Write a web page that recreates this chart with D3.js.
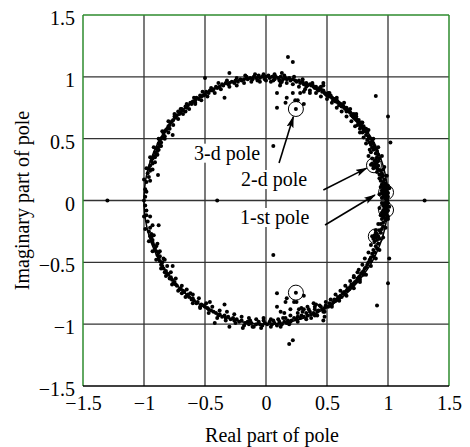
<!DOCTYPE html>
<html>
<head>
<meta charset="utf-8">
<script src="https://d3js.org/d3.v7.min.js"></script>
<style>
  body { margin: 0; background: #fff; }
  text { font-family: "Liberation Serif", "Times New Roman", serif; fill: #000; }
</style>
</head>
<body>
<div id="chart"></div>
<script>

var xTicks = [-1.5, -1, -0.5, 0, 0.5, 1, 1.5],
    yTicks = [-1.5, -1, -0.5, 0, 0.5, 1, 1.5];

// poles in the upper half plane (real, imag)
var polesUpper = [
  [0.99,0.01],[0.98,0.02],[0.97,0.03],[0.99,0.04],[0.96,0.05],[0.98,0.05],[1.0,0.06],[0.97,0.07],[0.99,0.07],[0.95,0.08],
  [0.98,0.08],[0.96,0.09],[0.99,0.09],[0.97,0.10],[0.98,0.11],[0.95,0.06],[0.96,0.03],[1.0,0.03],[0.97,0.05],[0.98,0.10],
  [0.95,0.02],[0.96,0.11],[1.0,0.12],[0.99,0.0],
  [0.97,0.12],[0.95,0.13],[0.98,0.14],[0.96,0.15],[0.94,0.16],[0.97,0.17],[0.95,0.19],[0.96,0.2],[0.93,0.21],[0.95,0.22],
  [0.94,0.24],[0.96,0.25],[0.92,0.25],
  [0.91,0.26],[0.9,0.27],[0.88,0.28],[0.92,0.28],[0.89,0.29],[0.9,0.3],[0.87,0.3],[0.91,0.31],[0.89,0.32],[0.88,0.26],
  [0.86,0.29],[0.9,0.33],[0.92,0.32],[0.89,0.27],
  [0.93,0.34],[0.91,0.35],[0.92,0.37],[0.9,0.38],[0.91,0.4],[0.88,0.41],[0.9,0.42],[0.87,0.43],[0.89,0.44],[0.86,0.45],
  [0.88,0.46],[0.85,0.47],[0.87,0.48],[0.84,0.5],[0.86,0.5],[0.83,0.49],[0.84,0.36],[0.86,0.39],
  [0.84,0.52],[0.82,0.53],[0.83,0.55],[0.81,0.56],[0.8,0.57],[0.82,0.58],[0.79,0.59],[0.78,0.6],[0.8,0.6],[0.77,0.61],
  [0.76,0.62],[0.78,0.63],[0.75,0.64],[0.74,0.65],[0.76,0.65],[0.73,0.66],[0.72,0.67],[0.74,0.68],[0.71,0.68],[0.7,0.69],
  [0.72,0.7],[0.69,0.71],[0.79,0.55],[0.77,0.58],[0.75,0.61],
  [0.68,0.72],[0.67,0.73],[0.66,0.72],[0.65,0.74],[0.64,0.75],[0.66,0.75],[0.62,0.76],[0.63,0.77],[0.61,0.78],[0.6,0.77],
  [0.59,0.79],[0.57,0.8],[0.58,0.81],[0.56,0.82],[0.55,0.81],[0.54,0.83],[0.52,0.84],[0.53,0.85],[0.5,0.85],[0.51,0.87],
  [0.49,0.86],
  [0.48,0.87],[0.46,0.88],[0.47,0.89],[0.45,0.9],[0.43,0.89],[0.44,0.91],[0.42,0.9],[0.4,0.91],[0.41,0.92],[0.39,0.92],
  [0.37,0.93],[0.38,0.94],[0.36,0.94],[0.34,0.93],[0.33,0.95],[0.31,0.94],[0.3,0.96],[0.28,0.95],[0.27,0.97],[0.25,0.96],
  [0.24,0.97],[0.22,0.98],[0.2,0.97],[0.19,0.99],[0.17,0.98],
  [0.47,0.95],[0.47,0.93],[0.18,1.16],[0.22,1.12],[0.09,0.87],[0.17,0.83],[0.16,0.79],[0.09,0.75],[0.24,0.81],[0.26,0.81],
  [0.31,0.78],[0.115,0.93],[0.13,0.96],[0.13,1.03],[0.22,0.87],[0.31,0.88],[0.28,0.87],[0.33,0.92],[0.36,0.89],[0.06,0.44],
  [0.245,0.74],[0.9,0.845],[1.0,0.68],[1.02,0.47],
  [0.16,0.99],[0.14,0.98],[0.12,1.0],[0.1,0.99],[0.08,1.0],[0.07,0.98],[0.05,1.0],[0.03,0.99],[0.02,1.01],[0.0,1.0],
  [-0.01,0.98],[-0.03,1.0],[-0.05,0.99],[-0.06,1.01],[-0.08,0.99],[-0.1,1.0],[-0.11,0.98],[-0.13,0.99],[-0.15,0.98],[-0.16,1.0],
  [-0.18,0.98],[0.04,0.96],[-0.07,0.97],[0.11,0.97],[-0.3,1.03],
  [-0.2,0.97],[-0.21,0.98],[-0.23,0.96],[-0.25,0.97],[-0.26,0.95],[-0.28,0.96],[-0.3,0.95],[-0.31,0.94],[-0.33,0.95],[-0.35,0.93],
  [-0.36,0.94],[-0.38,0.92],[-0.4,0.91],[-0.41,0.92],[-0.43,0.9],[-0.44,0.89],[-0.46,0.89],[-0.47,0.87],[-0.49,0.88],[-0.5,0.86],
  [-0.34,0.83],[-0.5,0.99],
  [-0.51,0.85],[-0.53,0.84],[-0.54,0.85],[-0.55,0.82],[-0.57,0.83],[-0.58,0.81],[-0.6,0.8],[-0.61,0.78],[-0.62,0.79],[-0.64,0.77],
  [-0.65,0.75],[-0.66,0.76],[-0.68,0.73],[-0.69,0.74],[-0.7,0.71],[-0.71,0.7],[-0.72,0.72],[-0.73,0.69],[-0.74,0.67],[-0.75,0.68],
  [-0.76,0.65],[-0.77,0.64],[-0.66,0.72],[-0.58,0.78],
  [-0.78,0.63],[-0.79,0.61],[-0.8,0.6],[-0.81,0.58],[-0.82,0.57],[-0.83,0.56],[-0.84,0.54],[-0.83,0.52],[-0.85,0.51],[-0.86,0.5],
  [-0.87,0.48],[-0.86,0.47],[-0.88,0.46],[-0.87,0.44],[-0.89,0.43],[-0.9,0.42],[-0.89,0.4],[-0.91,0.39],[-0.9,0.37],[-0.92,0.36],
  [-0.91,0.35],[-0.93,0.34],[-0.765,0.53],[-0.79,0.58],[-0.88,0.41],
  [-0.94,0.32],[-0.93,0.3],[-0.95,0.28],[-0.96,0.26],[-0.95,0.24],[-0.97,0.22],[-0.96,0.19],[-0.885,0.206],[-0.98,0.15],[-0.99,0.09],
  [-0.98,0.07],[-1.0,0.0],[-0.99,0.03],[-1.3,0.0],[-0.4,0.0],
  // inner edge of the band
  [0.93,0.05],[0.94,0.11],[0.93,0.18],[0.91,0.23],[0.87,0.34],[0.85,0.41],[0.82,0.46],[0.8,0.51],[0.77,0.55],[0.73,0.6],
  [0.7,0.64],[0.66,0.68],[0.62,0.72],[0.58,0.75],[0.54,0.79],[0.5,0.82],[0.45,0.84],[0.41,0.87],[0.36,0.87],[0.32,0.9],
  [0.27,0.92],[0.22,0.94],[0.17,0.95],[0.12,0.95],[0.06,0.97],[0.0,0.97],[-0.05,0.96],[-0.12,0.96],[-0.18,0.95],[-0.24,0.93],
  [-0.3,0.92],[-0.37,0.9],[-0.42,0.87],[-0.48,0.84],[-0.53,0.81],[-0.58,0.79],[-0.63,0.74],[-0.68,0.7],[-0.72,0.66],[-0.76,0.61],
  [-0.8,0.55],[-0.83,0.5],[-0.86,0.44],[-0.89,0.37],[-0.91,0.31],[-0.93,0.25],[-0.95,0.16],
  // outer edge of the band
  [1.01,0.1],[0.99,0.2],[0.97,0.27],[0.95,0.36],[0.92,0.43],[0.88,0.5],[0.84,0.57],[0.79,0.63],[0.74,0.7],[0.69,0.74],
  [0.64,0.79],[0.58,0.83],[0.52,0.87],[0.45,0.92],[0.38,0.95],[0.3,0.98],[0.23,1.0],[0.15,1.01],[0.07,1.02],[-0.02,1.02],
  [-0.09,1.02],[-0.17,1.01],[-0.24,0.99],[-0.32,0.97],[-0.39,0.95],[-0.45,0.91],[-0.52,0.88],[-0.59,0.83],[-0.65,0.78],[-0.7,0.74],
  [-0.75,0.7],[-0.8,0.64],[-0.85,0.56],[-0.88,0.5],[-0.92,0.43],[-0.95,0.35],[-0.98,0.26],[-1.0,0.17]
];

// poles in the lower half plane (real, imag)
var polesLower = [
  [0.99,-0.01],[0.97,-0.02],[0.98,-0.03],[0.96,-0.04],[0.99,-0.05],[0.97,-0.06],[0.98,-0.07],[1.0,-0.08],[0.96,-0.08],[0.99,-0.09],
  [0.97,-0.1],[0.98,-0.11],[0.95,-0.1],[0.99,-0.12],[0.96,-0.12],[0.98,-0.05],[0.97,-0.08],[1.3,0.0],
  [0.95,-0.02],[1.0,-0.02],[0.96,-0.13],[1.0,-0.13],
  [0.97,-0.14],[0.95,-0.15],[0.98,-0.16],[0.96,-0.18],[0.94,-0.19],[0.96,-0.21],[0.95,-0.23],[0.93,-0.24],[0.94,-0.26],
  [0.91,-0.27],[0.89,-0.28],[0.92,-0.29],[0.9,-0.3],[0.88,-0.31],[0.91,-0.32],[0.89,-0.33],[0.87,-0.29],[0.93,-0.31],[0.9,-0.26],
  [0.92,-0.35],[0.9,-0.37],[0.91,-0.39],[0.88,-0.4],[0.89,-0.42],[0.87,-0.43],[0.88,-0.45],[0.86,-0.46],[0.85,-0.48],[0.86,-0.49],
  [0.84,-0.5],[1.01,-0.47],[1.0,-0.67],[0.91,-0.85],
  [0.83,-0.52],[0.82,-0.54],[0.81,-0.55],[0.8,-0.57],[0.79,-0.58],[0.8,-0.6],[0.78,-0.59],[0.77,-0.61],[0.76,-0.62],[0.75,-0.63],
  [0.77,-0.64],[0.74,-0.65],[0.73,-0.66],[0.72,-0.67],[0.71,-0.69],[0.7,-0.68],[0.69,-0.7],[0.75,-0.58],[0.72,-0.62],
  [0.68,-0.72],[0.67,-0.71],[0.66,-0.73],[0.64,-0.74],[0.65,-0.76],[0.63,-0.75],[0.61,-0.77],[0.62,-0.78],[0.6,-0.79],[0.58,-0.8],
  [0.59,-0.78],[0.57,-0.81],[0.55,-0.82],[0.56,-0.8],[0.54,-0.84],[0.52,-0.83],[0.53,-0.85],[0.51,-0.86],[0.49,-0.85],
  [0.48,-0.9],[0.48,-0.94],[0.47,-0.97],
  [0.48,-0.87],[0.46,-0.88],[0.45,-0.86],[0.43,-0.89],[0.42,-0.9],[0.4,-0.88],[0.39,-0.91],[0.37,-0.92],[0.36,-0.9],[0.34,-0.93],
  [0.33,-0.91],[0.31,-0.94],[0.29,-0.93],[0.28,-0.95],[0.26,-0.94],[0.25,-0.96],[0.23,-0.95],[0.21,-0.97],[0.2,-0.98],[0.18,-0.97],
  [0.17,-0.99],
  [0.09,-0.75],[0.17,-0.79],[0.16,-0.82],[0.09,-0.86],[0.31,-0.77],[0.23,-0.82],[0.25,-0.82],[0.15,-0.91],[0.12,-0.9],[0.29,-0.87],
  [0.31,-0.88],[0.39,-0.83],[0.41,-0.84],[0.2,-0.88],[0.06,-0.44],[0.19,-1.16],[0.22,-1.13],[0.245,-0.745],
  [0.27,-0.88],[0.34,-0.86],[0.37,-0.95],[0.42,-0.93],[0.14,-0.95],[0.06,-0.97],[0.11,-0.98],
  [0.15,-0.98],[0.13,-1.0],[0.11,-0.99],[0.09,-1.01],[0.07,-0.99],[0.05,-1.0],[0.03,-0.98],[0.01,-1.0],[-0.01,-0.99],[-0.03,-1.01],
  [-0.05,-1.0],[-0.06,-0.98],[-0.08,-1.0],[-0.1,-1.02],[-0.12,-0.99],[-0.14,-1.0],[-0.15,-0.98],[-0.17,-0.99],[-0.19,-1.03],[-0.13,-0.97],
  [-0.02,-0.97],
  [-0.2,-0.97],[-0.22,-0.98],[-0.24,-0.96],[-0.26,-0.97],[-0.27,-0.95],[-0.29,-0.96],[-0.3,-1.02],[-0.31,-0.94],[-0.33,-0.95],[-0.34,-0.93],
  [-0.36,-0.94],[-0.38,-0.92],[-0.39,-0.93],[-0.41,-0.91],[-0.42,-0.99],[-0.43,-0.9],[-0.45,-0.89],[-0.46,-0.82],[-0.47,-0.88],[-0.48,-0.87],
  [-0.5,-0.86],[-0.34,-0.84],
  [-0.51,-0.85],[-0.53,-0.84],[-0.54,-0.86],[-0.56,-0.82],[-0.57,-0.83],[-0.59,-0.81],[-0.6,-0.79],[-0.61,-0.8],[-0.63,-0.78],[-0.64,-0.76],
  [-0.65,-0.77],[-0.67,-0.74],[-0.68,-0.73],[-0.69,-0.75],[-0.7,-0.71],[-0.71,-0.72],[-0.73,-0.69],[-0.74,-0.68],[-0.75,-0.66],[-0.76,-0.67],
  [-0.77,-0.64],[-0.62,-0.75],
  [-0.78,-0.62],[-0.79,-0.63],[-0.8,-0.6],[-0.81,-0.59],[-0.82,-0.57],[-0.83,-0.58],[-0.84,-0.55],[-0.85,-0.53],[-0.86,-0.52],[-0.85,-0.5],
  [-0.87,-0.49],[-0.88,-0.47],[-0.87,-0.45],[-0.89,-0.44],[-0.88,-0.42],[-0.9,-0.41],[-0.91,-0.39],[-0.9,-0.37],[-0.92,-0.36],[-0.93,-0.34],
  [-0.765,-0.53],[-0.83,-0.48],
  [-0.93,-0.32],[-0.94,-0.3],[-0.95,-0.29],[-0.96,-0.25],[-0.94,-0.27],[-0.95,-0.22],[-0.88,-0.2],[-0.97,-0.17],[-0.98,-0.12],[-0.98,-0.08],
  [-0.99,-0.04],
  // inner edge of the band
  [0.93,-0.06],[0.94,-0.12],[0.92,-0.19],[0.9,-0.24],[0.86,-0.36],[0.84,-0.42],[0.81,-0.47],[0.79,-0.52],[0.76,-0.56],[0.72,-0.61],
  [0.69,-0.65],[0.65,-0.69],[0.61,-0.73],[0.57,-0.76],[0.53,-0.8],[0.49,-0.82],[0.44,-0.85],[0.4,-0.86],[0.35,-0.88],[0.3,-0.9],
  [0.26,-0.91],[0.2,-0.93],[0.16,-0.95],[0.1,-0.96],[0.04,-0.96],[-0.02,-0.95],[-0.08,-0.96],[-0.14,-0.95],[-0.2,-0.94],[-0.26,-0.92],
  [-0.32,-0.9],[-0.38,-0.89],[-0.44,-0.86],[-0.49,-0.83],[-0.55,-0.79],[-0.6,-0.76],[-0.65,-0.72],[-0.69,-0.69],[-0.74,-0.63],[-0.78,-0.58],
  [-0.81,-0.53],[-0.84,-0.47],[-0.87,-0.41],[-0.89,-0.35],[-0.92,-0.28],[-0.93,-0.2],[-0.95,-0.13],
  // outer edge of the band
  [1.01,-0.05],[1.0,-0.15],[0.98,-0.22],[0.96,-0.3],[0.93,-0.4],[0.9,-0.47],[0.86,-0.53],[0.82,-0.6],[0.77,-0.66],[0.72,-0.71],
  [0.66,-0.77],[0.6,-0.81],[0.54,-0.86],[0.47,-0.9],[0.4,-0.93],[0.33,-0.96],[0.26,-0.98],[0.19,-1.0],[0.12,-1.02],[0.04,-1.02],
  [-0.04,-1.03],[-0.11,-1.02],[-0.18,-1.01],[-0.25,-0.99],[-0.33,-0.97],[-0.4,-0.95],[-0.47,-0.91],[-0.54,-0.87],[-0.6,-0.83],[-0.66,-0.78],
  [-0.72,-0.73],[-0.77,-0.68],[-0.82,-0.61],[-0.86,-0.55],[-0.9,-0.48],[-0.93,-0.41],[-0.96,-0.33],[-0.99,-0.23],[-1.0,-0.13]
];

// the circled (dominant) poles
var markedPoles = [
  [0.245, 0.74], [0.245, -0.745],
  [0.885, 0.285], [0.9, -0.29],
  [0.984, 0.066], [0.984, -0.077]
];

var labels = ["3-d pole", "2-d pole", "1-st pole"];

////////////////////////////////////////////////////////////
//////////////////////// Setup /////////////////////////////
////////////////////////////////////////////////////////////

var width = 470, height = 447,
    margin = {top: 15, right: 21, bottom: 61, left: 83},
    innerW = width - margin.left - margin.right,
    innerH = height - margin.top - margin.bottom,
    serif = "'Liberation Serif', 'Times New Roman', serif";

var x = d3.scaleLinear().domain([-1.5, 1.5]).range([0, innerW]);
var y = d3.scaleLinear().domain([-1.5, 1.5]).range([innerH, 0]);
var fmt = d3.format("~g");

var svg = d3.select("#chart").append("svg")
  .attr("width", width)
  .attr("height", height)
  .attr("font-family", serif);

svg.append("defs").append("marker")
  .attr("id", "head")
  .attr("markerUnits", "userSpaceOnUse")
  .attr("markerWidth", 12).attr("markerHeight", 8)
  .attr("refX", 11).attr("refY", 3.5)
  .attr("orient", "auto")
  .append("path")
  .attr("d", "M0,0 L12,3.5 L0,7 L2.5,3.5 z")
  .attr("fill", "#000");

var g = svg.append("g")
  .attr("transform", "translate(" + margin.left + "," + margin.top + ")");

////////////////////////////////////////////////////////////
//////////////////////// Grid //////////////////////////////
////////////////////////////////////////////////////////////

g.selectAll("line.vgrid")
  .data(xTicks.slice(1, -1))
  .enter().append("line")
  .attr("class", "vgrid")
  .attr("x1", function(d) { return x(d); }).attr("x2", function(d) { return x(d); })
  .attr("y1", 0).attr("y2", innerH)
  .attr("stroke", "#333").attr("stroke-width", 1.3);

g.selectAll("line.hgrid")
  .data(yTicks.slice(1, -1))
  .enter().append("line")
  .attr("class", "hgrid")
  .attr("y1", function(d) { return y(d); }).attr("y2", function(d) { return y(d); })
  .attr("x1", 0).attr("x2", innerW)
  .attr("stroke", "#333").attr("stroke-width", 1.3);

// frame: green on three sides, black along the bottom
var green = "#2e8b2e";
g.append("line").attr("x1", 0).attr("x2", innerW).attr("y1", 0).attr("y2", 0)
  .attr("stroke", green).attr("stroke-width", 1.5);
g.append("line").attr("x1", 0).attr("x2", 0).attr("y1", 0).attr("y2", innerH)
  .attr("stroke", green).attr("stroke-width", 1.5);
g.append("line").attr("x1", innerW).attr("x2", innerW).attr("y1", 0).attr("y2", innerH)
  .attr("stroke", green).attr("stroke-width", 1.5);
g.append("line").attr("x1", 0).attr("x2", innerW).attr("y1", innerH).attr("y2", innerH)
  .attr("stroke", "#000").attr("stroke-width", 1.5);

////////////////////////////////////////////////////////////
//////////////////////// Axes //////////////////////////////
////////////////////////////////////////////////////////////

var xAxis = g.append("g")
  .attr("transform", "translate(0," + innerH + ")")
  .call(d3.axisBottom(x).tickValues(xTicks).tickFormat(fmt).tickSize(0).tickPadding(10));
var yAxis = g.append("g")
  .call(d3.axisLeft(y).tickValues(yTicks).tickFormat(fmt).tickSize(0).tickPadding(8));

[xAxis, yAxis].forEach(function(a) {
  a.attr("font-family", serif).attr("font-size", 20);
  a.select(".domain").remove();
  a.selectAll("text").attr("fill", "#000");
});
yAxis.selectAll("text").attr("dy", "0.48em");

svg.append("text")
  .attr("x", 272).attr("y", 442)
  .attr("text-anchor", "middle")
  .style("font-size", "20px")
  .text("Real part of pole");

svg.append("text")
  .attr("transform", "translate(29," + (margin.top + y(0)) + ") rotate(-90)")
  .attr("text-anchor", "middle")
  .style("font-size", "20px")
  .text("Imaginary part of pole");

////////////////////////////////////////////////////////////
/////////////////// Unit circle & poles ////////////////////
////////////////////////////////////////////////////////////

var circlePts = d3.range(0, 360, 2).map(function(a) {
  var t = a * Math.PI / 180;
  return [Math.cos(t), Math.sin(t)];
});
g.append("path")
  .datum(circlePts)
  .attr("d", d3.line().x(function(d) { return x(d[0]); }).y(function(d) { return y(d[1]); }).curve(d3.curveCardinalClosed))
  .attr("fill", "none")
  .attr("stroke", "#000")
  .attr("stroke-width", 1.5);

g.selectAll("circle.pole")
  .data(polesUpper.concat(polesLower))
  .enter().append("circle")
  .attr("class", "pole")
  .attr("cx", function(d) { return x(d[0]); })
  .attr("cy", function(d) { return y(d[1]); })
  .attr("r", 2)
  .attr("fill", "#000");

g.selectAll("circle.mark")
  .data(markedPoles)
  .enter().append("circle")
  .attr("class", "mark")
  .attr("cx", function(d) { return x(d[0]); })
  .attr("cy", function(d) { return y(d[1]); })
  .attr("r", 7.5)
  .attr("fill", "none")
  .attr("stroke", "#000")
  .attr("stroke-width", 1);

////////////////////////////////////////////////////////////
////////////////////// Annotations /////////////////////////
////////////////////////////////////////////////////////////

// label anchor (data units) and arrow from / to
var notes = [
  {text: labels[0], at: [-0.59, 0.33], from: [0.107, 0.303], to: [0.224, 0.677]},
  {text: labels[1], at: [-0.205, 0.117], from: [0.47, 0.085], to: [0.825, 0.262]},
  {text: labels[2], at: [-0.213, -0.19], from: [0.484, -0.198], to: [0.893, 0.044]}
];

notes.forEach(function(n) {
  var t = g.append("text")
    .attr("x", x(n.at[0])).attr("y", y(n.at[1]))
    .style("font-size", "20px")
    .text(n.text);
  var b = t.node().getBBox();
  g.insert("rect", function() { return t.node(); })
    .attr("x", b.x - 1).attr("y", b.y + 2)
    .attr("width", b.width + 2).attr("height", b.height - 4)
    .attr("fill", "#fff");
  g.append("line")
    .attr("x1", x(n.from[0])).attr("y1", y(n.from[1]))
    .attr("x2", x(n.to[0])).attr("y2", y(n.to[1]))
    .attr("stroke", "#000").attr("stroke-width", 1.6)
    .attr("marker-end", "url(#head)");
});

</script>
</body>
</html>
